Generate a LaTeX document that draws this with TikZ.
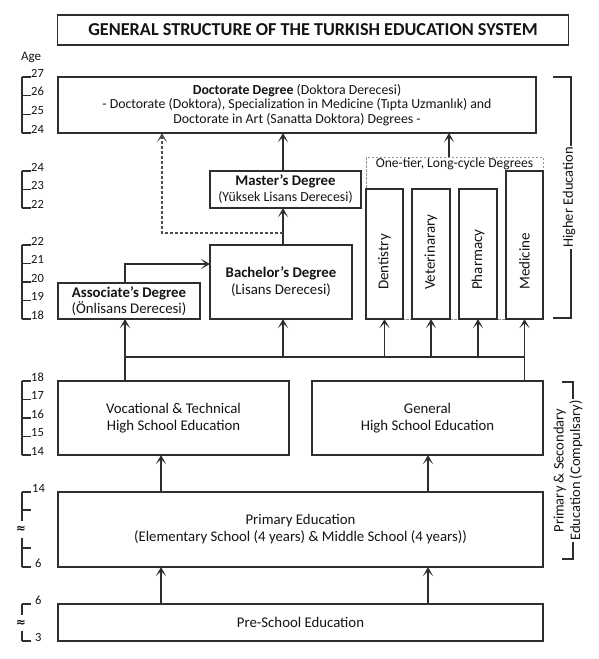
\documentclass[tikz,border=0pt]{standalone}
\usepackage{fontspec}
\setmainfont{Carlito}
\newfontfamily\symfont{DejaVu Sans}
\usetikzlibrary{arrows.meta,calc}
\definecolor{ln}{HTML}{2E2E2E}
\definecolor{tx}{HTML}{141414}
\begin{document}
\begin{tikzpicture}[x=1pt,y=-1pt,
  box/.style={draw=ln, line width=1.4pt, inner sep=0pt, outer sep=0pt, align=center, fill=white, text=tx, font=\fontsize{14.8}{17}\selectfont},
  arr/.style={draw=ln, line width=1.4pt, -{Stealth[length=9pt,width=10pt,inset=5pt]}},
  darr/.style={draw=ln!85, line width=1.3pt, dash pattern=on 3pt off 2pt, -{Stealth[length=9pt,width=10pt,inset=5pt]}},
  plain/.style={draw=ln, line width=1.4pt},
  sc/.style={draw=ln, line width=1.3pt},
  age/.style={inner sep=0pt, text=tx, font=\fontsize{12.5}{13}\selectfont},
  apx/.style={inner sep=0pt, text=tx, font=\symfont\bfseries\fontsize{12}{13}\selectfont},
  vtext/.style={rotate=90, anchor=west, inner sep=0pt, text=tx, font=\fontsize{15}{17}\selectfont},
  grp/.style={draw=gray!85, line width=1pt, dash pattern=on 2.5pt off 1.5pt, inner sep=0pt, outer sep=0pt},
  side/.style={rotate=90, fill=white, inner sep=1.5pt, align=center, text=tx, font=\fontsize{14.5}{16.5}\selectfont}
]
\useasboundingbox (0,0) rectangle (599,659);

% title
\node[box, minimum width=511pt, minimum height=30pt, font=\bfseries\fontsize{18.2}{20}\selectfont] (title) at (313,30) {GENERAL STRUCTURE OF THE TURKISH EDUCATION SYSTEM};

% age scales
\node[age, anchor=west, font=\fontsize{13}{14}\selectfont] (agelbl) at (21,57) {Age};
\draw[sc] (22,77) -- (22,133);
\foreach \y/\t [count=\i] in {77/27, 95.7/26, 114.3/25, 133/24} {
  \draw[sc] (22,\y) -- (31,\y);
  \node[age, anchor=base west] (sa\i) at (31,\y) {\t};
}
\draw[sc] (22,171) -- (22,208);
\foreach \y/\t [count=\i] in {171/24, 189.5/23, 208/22} {
  \draw[sc] (22,\y) -- (31,\y);
  \node[age, anchor=base west] (sb\i) at (31,\y) {\t};
}
\draw[sc] (22,245) -- (22,319);
\foreach \y/\t [count=\i] in {245/22, 263.5/21, 282/20, 300.5/19, 319/18} {
  \draw[sc] (22,\y) -- (31,\y);
  \node[age, anchor=base west] (sc\i) at (31,\y) {\t};
}
\draw[sc] (22,381) -- (22,455);
\foreach \y/\t [count=\i] in {381/18, 399.5/17, 418/16, 436.5/15, 455/14} {
  \draw[sc] (22,\y) -- (31,\y);
  \node[age, anchor=base west] (sd\i) at (31,\y) {\t};
}
% primary scale
\draw[sc] (22,492) -- (22,521);
\draw[sc] (22,538) -- (22,567);
\foreach \y in {492,510,548,567} { \draw[sc] (22,\y) -- (31,\y); }
\node[age, anchor=base west] (se1) at (32,492) {14};
\node[age, anchor=base west] (se2) at (35,567) {6};
\node[apx] (se3) at (21,529.5) {≈};
% pre-school scale
\draw[sc] (22,604) -- (22,615);
\draw[sc] (22,631) -- (22,641);
\foreach \y in {604,641} { \draw[sc] (22,\y) -- (31,\y); }
\node[age, anchor=base west] (sf1) at (35,604) {6};
\node[age, anchor=base west] (sf2) at (35,641) {3};
\node[apx] (sf3) at (21,623) {≈};

% boxes
\node[box, minimum width=478pt, minimum height=56pt, font=\fontsize{13.8}{14.5}\selectfont] (doc) at (297,105)
  {\textbf{Doctorate Degree} (Doktora Derecesi)\\- Doctorate (Doktora), Specialization in Medicine (Tıpta Uzmanlık) and\\Doctorate in Art (Sanatta Doktora) Degrees -};
\node[box, minimum width=151pt, minimum height=37pt, font=\fontsize{13.8}{16}\selectfont] (master) at (285.5,189.5)
  {\textbf{\fontsize{14.8}{16}\selectfont Master's Degree}\\(Yüksek Lisans Derecesi)};
\node[box, minimum width=142pt, minimum height=74pt] (bach) at (281,282)
  {\textbf{Bachelor's Degree}\\(Lisans Derecesi)};
\node[box, minimum width=142pt, minimum height=36pt, font=\fontsize{14.8}{15.5}\selectfont] (assoc) at (129,301)
  {\textbf{Associate's Degree}\\(Önlisans Derecesi)};

% one-tier group
\node[grp, minimum width=177pt, minimum height=162pt] (grp) at (454.5,238) {};
\node[inner sep=0pt, text=tx, font=\fontsize{13.6}{14}\selectfont] (grpT) at (454.5,164) {One-tier, Long-cycle Degrees};
\node[box, minimum width=37pt, minimum height=130pt] (dent) at (384.5,254) {};
\node[box, minimum width=38pt, minimum height=130pt] (vet) at (431,254) {};
\node[box, minimum width=38pt, minimum height=130pt] (pharm) at (478,254) {};
\node[box, minimum width=37pt, minimum height=148pt] (med) at (524.5,245) {};
\node[vtext] (dentT) at ($(dent.south)+(0,-29)$) {Dentistry};
\node[vtext] (vetT) at ($(vet.south)+(0,-29)$) {Veterinarary};
\node[vtext] (pharmT) at ($(pharm.south)+(0,-29)$) {Pharmacy};
\node[vtext] (medT) at ($(med.south)+(0,-29)$) {Medicine};

\node[box, minimum width=231pt, minimum height=74pt] (voc) at (173.5,418)
  {Vocational \& Technical\\High School Education};
\node[box, minimum width=231pt, minimum height=74pt] (gen) at (427.5,418)
  {General\\High School Education};
\node[box, minimum width=485pt, minimum height=75pt] (prim) at (300.5,529.5)
  {Primary Education\\(Elementary School (4 years) \& Middle School (4 years))};
\node[box, minimum width=485pt, minimum height=37pt] (pre) at (300.5,622.5)
  {Pre-School Education};

% side brackets
\draw[sc] (553,77) -| (571,318) -- (553,318);
\node[side] (he) at (569,197.5) {Higher Education};
\draw[sc] (562,382) -| (573,559) -- (562,559);
\node[side] (pse) at (568,470.5) {Primary \& Secondary\\Education (Compulsary)};

% connector coordinates
\coordinate (j1) at (125,357);
\coordinate (b1) at (125,264);
\coordinate (mx) at (283,233);
\coordinate (d1) at (162,233);
\coordinate (ox) at (449,145);
\coordinate (px1) at (161,480);
\coordinate (px2) at (428,480);

% connectors
\draw[arr] (j1 |- voc.north) -- (j1 |- assoc.south);
\draw[arr] (med.south |- gen.north) -- (med.south);
\draw[plain] (j1) -- (j1 -| med.south);
\draw[arr] (j1 -| mx) -- (mx |- bach.south);
\draw[arr] (j1 -| dent.south) -- (dent.south);
\draw[arr] (j1 -| vet.south) -- (vet.south);
\draw[arr] (j1 -| pharm.south) -- (pharm.south);
\draw[arr] (j1 |- assoc.north) |- (b1 -| bach.west);
\draw[arr] (mx |- bach.north) -- (mx |- master.south);
\draw[arr] (mx |- master.north) -- (mx |- doc.south);
\draw[darr] (mx) -| (d1 |- doc.south);
\draw[arr] (ox |- grp.north) -- (ox |- doc.south);
\draw[arr] (px1 |- prim.north) -- (px1 |- voc.south);
\draw[arr] (px2 |- prim.north) -- (px2 |- gen.south);
\draw[arr] (px1 |- pre.north) -- (px1 |- prim.south);
\draw[arr] (px2 |- pre.north) -- (px2 |- prim.south);
\end{tikzpicture}
\end{document}
